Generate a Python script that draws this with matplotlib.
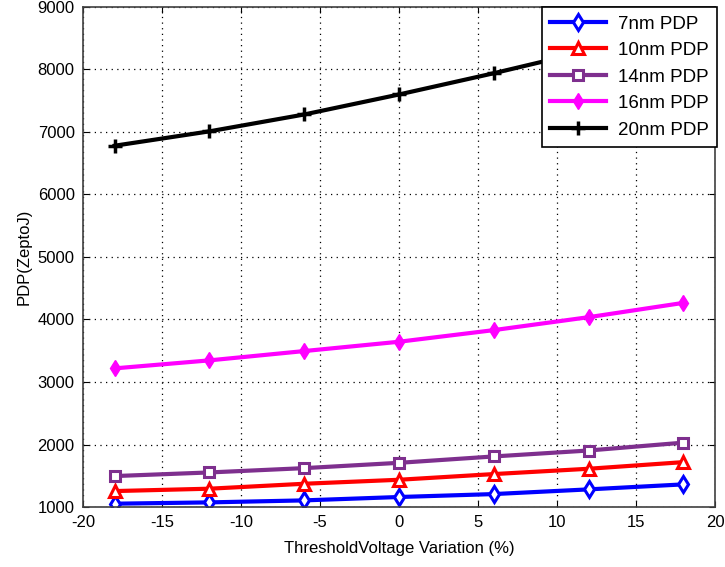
import matplotlib
matplotlib.use('Agg')
import matplotlib.pyplot as plt

plt.rcParams['font.family'] = ['Liberation Sans', 'DejaVu Sans']
plt.rcParams['axes.unicode_minus'] = False

# du lieu doc tu hinh
vth_var = [-18, -12, -6, 0, 6, 12, 18]
pdp_7nm = [1053, 1074, 1106, 1160, 1207, 1282, 1362]
pdp_10nm = [1255, 1293, 1372, 1436, 1527, 1612, 1718]
pdp_14nm = [1495, 1553, 1622, 1707, 1809, 1904, 2030]
pdp_16nm = [3218, 3346, 3495, 3644, 3830, 4037, 4266]
pdp_20nm = [6780, 7010, 7280, 7600, 7940, 8300, 8700]

labels = ['7nm PDP', '10nm PDP', '14nm PDP', '16nm PDP', '20nm PDP']
x_ticks = [-20, -15, -10, -5, 0, 5, 10, 15, 20]
y_ticks = [1000, 2000, 3000, 4000, 5000, 6000, 7000, 8000, 9000]

fig = plt.figure(figsize=(7.25, 5.67), dpi=100)
ax = fig.add_axes([0.1145, 0.1058, 0.8717, 0.8819])

ax.plot(vth_var, pdp_7nm, color='#0000ff', lw=3, marker='d', ms=8, mfc='white', mec='#0000ff', mew=2.2, label=labels[0])
ax.plot(vth_var, pdp_10nm, color='#ff0000', lw=3, marker='^', ms=8, mfc='white', mec='#ff0000', mew=2.2, label=labels[1])
ax.plot(vth_var, pdp_14nm, color='#7e2f8e', lw=3, marker='s', ms=7.5, mfc='white', mec='#7e2f8e', mew=2.2, label=labels[2])
ax.plot(vth_var, pdp_16nm, color='#ff00ff', lw=3, marker='d', ms=8, mfc='#ff00ff', mec='#ff00ff', label=labels[3])
ax.plot(vth_var, pdp_20nm, color='black', lw=3, marker='+', ms=10, mew=2.5, label=labels[4])

ax.set_xlim(-20, 20)
ax.set_ylim(1000, 9000)
ax.set_xticks(x_ticks)
ax.set_yticks(y_ticks)
ax.grid(True, color='black', linestyle=(0, (1, 3.5)), linewidth=0.9)
ax.tick_params(direction='in', top=True, right=True, length=4, labelsize=12, pad=6)
for sp in ax.spines.values():
    sp.set_color('#404040')
    sp.set_linewidth(1.2)

ax.set_xlabel('ThresholdVoltage Variation (%)', fontsize=12, labelpad=8)
ax.set_ylabel('PDP(ZeptoJ)', fontsize=12, labelpad=4)

leg = ax.legend(loc='upper right', bbox_to_anchor=(1.003, 1.0), fancybox=False,
                framealpha=1, edgecolor='black', borderaxespad=0, handlelength=3.0,
                labelspacing=0.5, borderpad=0.45, handletextpad=0.6,
                prop={'family': ['Liberation Sans', 'DejaVu Sans'], 'size': 13.5})
leg.get_frame().set_linewidth(1.2)

plt.savefig('out.png', dpi=100)
